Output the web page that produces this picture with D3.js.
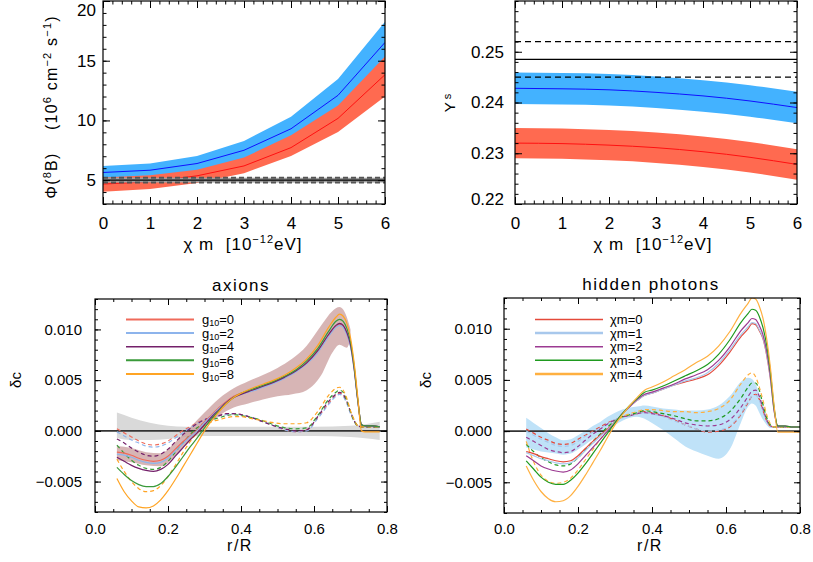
<!DOCTYPE html>
<html><head><meta charset="utf-8">
<script src="https://cdn.jsdelivr.net/npm/d3@7"></script>
<style>body{margin:0;background:#fff}</style>
</head><body><svg id="c" width="813" height="562" xmlns="http://www.w3.org/2000/svg"></svg>
<script>
// ---------------- DATA ----------------
// top panels
const chiM = [0,1,2,3,4,5,6];
const phiBlue   = [5.64,5.83,6.39,7.50,9.30,12.10,16.53];
const phiBlueHi = [6.19,6.39,7.03,8.28,10.30,13.47,18.27];
const phiBlueLo = [5.10,5.27,5.76,6.72,8.30,10.73,14.79];
const phiRed    = [4.67,4.86,5.36,6.19,7.72,10.17,13.83];
const phiRedHi  = [5.22,5.41,5.86,6.89,8.75,11.25,15.36];
const phiRedLo  = [4.03,4.25,4.75,5.58,7.03,9.03,12.00];
const phiObs    = [5.0, 4.8, 5.2];           // central, low, high

const ysBlue   = [0.2428,0.2427,0.2425,0.2420,0.2413,0.2403,0.2390];
const ysBlueHi = [0.2459,0.2458,0.2456,0.2451,0.2444,0.2434,0.2421];
const ysBlueLo = [0.2397,0.2396,0.2394,0.2389,0.2382,0.2372,0.2359];
const ysRed    = [0.2320,0.2319,0.2316,0.2311,0.2303,0.2292,0.2278];
const ysRedHi  = [0.2350,0.2349,0.2346,0.2341,0.2333,0.2322,0.2308];
const ysRedLo  = [0.2290,0.2289,0.2286,0.2281,0.2273,0.2262,0.2248];
const ysObs    = [0.2485, 0.2450, 0.2520];

// bottom-left: axions
const rA = [0.06,0.08,0.10,0.12,0.14,0.16,0.18,0.20,0.22,0.24,0.26,0.28,0.30,0.32,0.34,0.36,0.38,0.40,0.43,0.46,0.49,0.52,0.55,0.58,0.61,0.64,0.66,0.67,0.68,0.69,0.70,0.71,0.72,0.73,0.74,0.76,0.78];
const axLabels = ["0","2","4","6","8"];
const axSolid = [
 [-0.0021,-0.0022,-0.0024,-0.0027,-0.0029,-0.0030,-0.0029,-0.0025,-0.0018,-0.0011,-0.0005,0.0001, 0.0009,0.0016,0.0023,0.0029,0.0034,0.0037, 0.0040,0.0044,0.0048,0.0053,0.0059,0.0067,0.0078,0.0094, 0.0103,0.0105,0.0103,0.0096,0.0084,0.0061,0.0030,0.0006,0.0005,0.0005,0.0004],
 [-0.0023,-0.0024,-0.0026,-0.0029,-0.0031,-0.0032,-0.0031,-0.0027,-0.0020,-0.0013,-0.0006,0.0000, 0.0008,0.0015,0.0022,0.0028,0.0033,0.0036, 0.0039,0.0043,0.0047,0.0052,0.0058,0.0066,0.0077,0.0093, 0.0102,0.0104,0.0102,0.0095,0.0083,0.0060,0.0029,0.0006,0.0005,0.0005,0.0004],
 [-0.0026,-0.0030,-0.0034,-0.0037,-0.0039,-0.0040,-0.0038,-0.0033,-0.0025,-0.0017,-0.0009,-0.0002, 0.0006,0.0014,0.0021,0.0028,0.0033,0.0036, 0.0040,0.0044,0.0048,0.0053,0.0059,0.0067,0.0079,0.0095, 0.0104,0.0106,0.0104,0.0097,0.0085,0.0062,0.0030,0.0006,0.0005,0.0005,0.0004],
 [-0.0036,-0.0043,-0.0049,-0.0053,-0.0055,-0.0055,-0.0052,-0.0045,-0.0036,-0.0026,-0.0016,-0.0007, 0.0003,0.0012,0.0020,0.0027,0.0033,0.0037, 0.0041,0.0045,0.0049,0.0054,0.0060,0.0069,0.0081,0.0098, 0.0108,0.0110,0.0108,0.0101,0.0088,0.0064,0.0031,0.0006,0.0005,0.0005,0.0004],
 [-0.0047,-0.0060,-0.0069,-0.0075,-0.0076,-0.0074,-0.0068,-0.0059,-0.0048,-0.0036,-0.0024,-0.0012, 0.0000,0.0010,0.0019,0.0027,0.0033,0.0037, 0.0042,0.0046,0.0050,0.0055,0.0062,0.0071,0.0084,0.0102, 0.0112,0.0115,0.0113,0.0106,0.0092,0.0067,0.0033,0.0000,-0.0001,-0.0001,-0.0001]
];
const axDashed = [
 [0.0002,-0.0002,-0.0006,-0.0010,-0.0013,-0.0014,-0.0013,-0.0010,-0.0005,0.0000,0.0004,0.0008, 0.0011,0.0013,0.0015,0.0017,0.0017,0.0016, 0.0013,0.0009,0.0005,0.0001,-0.0001,0.0001,0.0013,0.0027, 0.0035,0.0037,0.0035,0.0028,0.0018,0.0010,0.0005,0.0004,0.0004,0.0004,0.0004],
 [-0.0001,-0.0005,-0.0009,-0.0012,-0.0015,-0.0016,-0.0015,-0.0012,-0.0007,-0.0002,0.0003,0.0007, 0.0011,0.0013,0.0015,0.0016,0.0017,0.0016, 0.0013,0.0009,0.0005,0.0001,-0.0001,0.0000,0.0012,0.0026, 0.0034,0.0036,0.0034,0.0027,0.0017,0.0009,0.0005,0.0004,0.0004,0.0004,0.0004],
 [-0.0008,-0.0012,-0.0017,-0.0021,-0.0024,-0.0025,-0.0023,-0.0018,-0.0011,-0.0004,0.0002,0.0007, 0.0011,0.0013,0.0015,0.0017,0.0017,0.0016, 0.0013,0.0009,0.0005,0.0002,0.0000,0.0001,0.0014,0.0029, 0.0036,0.0038,0.0036,0.0029,0.0019,0.0010,0.0005,0.0004,0.0004,0.0004,0.0004],
 [-0.0014,-0.0022,-0.0029,-0.0034,-0.0037,-0.0038,-0.0036,-0.0030,-0.0021,-0.0012,-0.0004,0.0003, 0.0008,0.0011,0.0013,0.0015,0.0016,0.0015, 0.0013,0.0010,0.0006,0.0003,0.0002,0.0003,0.0015,0.0031, 0.0038,0.0040,0.0038,0.0030,0.0019,0.0010,0.0005,0.0004,0.0004,0.0004,0.0004],
 [-0.0028,-0.0040,-0.0050,-0.0057,-0.0060,-0.0059,-0.0054,-0.0045,-0.0034,-0.0022,-0.0011,-0.0002, 0.0005,0.0009,0.0011,0.0013,0.0014,0.0014, 0.0012,0.0010,0.0008,0.0007,0.0007,0.0008,0.0019,0.0035, 0.0042,0.0043,0.0040,0.0032,0.0020,0.0011,0.0005,0.0004,0.0004,0.0004,0.0004]
];
const rGray  = [0.06,0.10,0.15,0.20,0.25,0.30,0.40,0.50,0.60,0.70,0.78];
const grayHi = [0.0018,0.0013,0.0008,0.0005,0.0004,0.0004,0.0004,0.0004,0.0004,0.0005,0.0009];
const grayLo = [-0.0007,-0.0009,-0.0009,-0.0008,-0.0006,-0.0005,-0.0005,-0.0005,-0.0005,-0.0006,-0.0009];
const rBrown  = [0.06,0.10,0.14,0.18,0.22,0.26,0.30,0.34,0.38,0.42,0.46,0.50,0.54,0.58,0.62,0.65,0.67,0.69,0.70];
const brownHi = [-0.0015,-0.0017,-0.0021,-0.0022,-0.0011,0.0003,0.0018,0.0032,0.0042,0.0049,0.0055,0.0062,0.0071,0.0084,0.0104,0.0118,0.0122,0.0112,0.0100];
const brownLo = [-0.0029,-0.0031,-0.0034,-0.0035,-0.0025,-0.0010,0.0003,0.0015,0.0023,0.0027,0.0031,0.0034,0.0036,0.0040,0.0055,0.0077,0.0085,0.0082,0.0090];

// bottom-right: hidden photons
const rH = [0.06,0.08,0.10,0.12,0.14,0.16,0.18,0.20,0.22,0.24,0.26,0.28,0.30,0.32,0.34,0.36,0.38,0.40,0.43,0.46,0.49,0.52,0.55,0.58,0.61,0.64,0.66,0.67,0.68,0.69,0.70,0.71,0.72,0.73,0.74,0.76,0.78,0.80];
const hpLabels = ["0","1","2","3","4"];
const hpSolid = [
 [-0.0020,-0.0022,-0.0025,-0.0027,-0.0029,-0.0030,-0.0029,-0.0024,-0.0017,-0.0010,-0.0004,0.0002, 0.0009,0.0017,0.0024,0.0030,0.0035,0.0037, 0.0041,0.0045,0.0048,0.0051,0.0055,0.0064,0.0077,0.0092, 0.0100,0.0105,0.0104,0.0098,0.0090,0.0074,0.0051,0.0020,0.0005,0.0005,0.0004,0.0004],
 [-0.0021,-0.0024,-0.0027,-0.0029,-0.0031,-0.0032,-0.0031,-0.0026,-0.0019,-0.0012,-0.0005,0.0001, 0.0009,0.0017,0.0024,0.0030,0.0035,0.0037, 0.0041,0.0045,0.0049,0.0052,0.0057,0.0066,0.0079,0.0094, 0.0102,0.0106,0.0105,0.0099,0.0091,0.0075,0.0052,0.0020,0.0005,0.0005,0.0004,0.0004],
 [-0.0024,-0.0029,-0.0034,-0.0037,-0.0039,-0.0040,-0.0038,-0.0032,-0.0024,-0.0016,-0.0008,0.0000, 0.0008,0.0017,0.0024,0.0031,0.0036,0.0038, 0.0042,0.0046,0.0051,0.0055,0.0060,0.0069,0.0082,0.0098, 0.0106,0.0110,0.0109,0.0103,0.0094,0.0078,0.0054,0.0021,0.0005,0.0005,0.0004,0.0004],
 [-0.0029,-0.0037,-0.0045,-0.0050,-0.0052,-0.0052,-0.0048,-0.0041,-0.0032,-0.0022,-0.0012,-0.0002, 0.0008,0.0017,0.0025,0.0032,0.0038,0.0040, 0.0044,0.0049,0.0054,0.0059,0.0065,0.0075,0.0089,0.0106, 0.0115,0.0119,0.0118,0.0112,0.0101,0.0084,0.0058,0.0023,0.0005,0.0005,0.0004,0.0004],
 [-0.0034,-0.0048,-0.0059,-0.0066,-0.0069,-0.0068,-0.0063,-0.0054,-0.0043,-0.0031,-0.0019,-0.0006, 0.0006,0.0016,0.0025,0.0033,0.0040,0.0043, 0.0048,0.0054,0.0060,0.0067,0.0073,0.0083,0.0097,0.0115, 0.0125,0.0130,0.0129,0.0122,0.0110,0.0090,0.0062,0.0025,-0.0001,-0.0001,-0.0001,-0.0001]
];
const hpDashed = [
 [0.0002,-0.0002,-0.0006,-0.0009,-0.0012,-0.0013,-0.0012,-0.0008,-0.0004,0.0000,0.0004,0.0008, 0.0011,0.0014,0.0015,0.0017,0.0019,0.0018, 0.0015,0.0011,0.0006,0.0002,-0.0001,0.0000,0.0004,0.0016, 0.0028,0.0034,0.0036,0.0031,0.0020,0.0010,0.0005,0.0004,0.0004,0.0004,0.0004,0.0004],
 [0.0000,-0.0004,-0.0008,-0.0011,-0.0014,-0.0015,-0.0014,-0.0010,-0.0005,-0.0001,0.0003,0.0007, 0.0011,0.0013,0.0015,0.0017,0.0018,0.0017, 0.0014,0.0010,0.0006,0.0002,0.0000,0.0001,0.0005,0.0017, 0.0029,0.0034,0.0035,0.0030,0.0020,0.0010,0.0005,0.0004,0.0004,0.0004,0.0004,0.0004],
 [-0.0006,-0.0010,-0.0014,-0.0018,-0.0020,-0.0021,-0.0020,-0.0015,-0.0009,-0.0003,0.0002,0.0007, 0.0011,0.0014,0.0015,0.0017,0.0018,0.0017, 0.0015,0.0012,0.0008,0.0006,0.0005,0.0006,0.0011,0.0023, 0.0034,0.0039,0.0040,0.0034,0.0022,0.0011,0.0005,0.0004,0.0004,0.0004,0.0004,0.0004],
 [-0.0013,-0.0020,-0.0026,-0.0030,-0.0033,-0.0034,-0.0032,-0.0026,-0.0018,-0.0010,-0.0003,0.0004, 0.0010,0.0014,0.0016,0.0018,0.0020,0.0019, 0.0017,0.0015,0.0012,0.0010,0.0010,0.0012,0.0019,0.0032, 0.0043,0.0047,0.0047,0.0040,0.0026,0.0013,0.0006,0.0004,0.0004,0.0004,0.0004,0.0004],
 [-0.0010,-0.0030,-0.0043,-0.0049,-0.0051,-0.0050,-0.0046,-0.0038,-0.0028,-0.0018,-0.0008,0.0001, 0.0009,0.0014,0.0017,0.0019,0.0021,0.0021, 0.0020,0.0019,0.0019,0.0018,0.0019,0.0022,0.0030,0.0046, 0.0055,0.0057,0.0053,0.0043,0.0030,0.0016,0.0007,0.0004,0.0004,0.0004,0.0004,0.0004]
];
const rBand  = [0.06,0.08,0.10,0.12,0.14,0.16,0.18,0.20,0.22,0.24,0.26,0.28,0.30,0.32,0.34,0.36,0.38,0.40,0.43,0.46,0.49,0.52,0.55,0.58,0.61,0.64,0.66,0.67,0.68,0.69,0.70,0.71,0.72,0.73];
const bandHi = [0.0013,0.0008,0.0003,-0.0002,-0.0006,-0.0009,-0.0008,-0.0004,0.0000,0.0005,0.0009,0.0014,0.0018,0.0021,0.0023,0.0024,0.0025,0.0024,0.0022,0.0021,0.0020,0.0020,0.0021,0.0025,0.0034,0.0048,0.0052,0.0051,0.0046,0.0037,0.0025,0.0014,0.0006,0.0004];
const bandLo = [-0.0016,-0.0018,-0.0020,-0.0021,-0.0022,-0.0023,-0.0022,-0.0018,-0.0013,-0.0008,-0.0003,0.0002,0.0006,0.0010,0.0013,0.0014,0.0012,0.0008,0.0001,-0.0007,-0.0015,-0.0020,-0.0024,-0.0027,-0.0018,0.0008,0.0024,0.0027,0.0025,0.0018,0.0011,0.0006,0.0003,0.0003];

// tick values
const xTopMajor = [0,1,2,3,4,5,6];
const yPhiMajor = [5,10,15,20];
const yYsMajor = [0.22,0.23,0.24,0.25];
const xBotMajor = [0,0.2,0.4,0.6,0.8];
const yBotMajor = [-0.005,0,0.005,0.010];

// ---------------- DRAWING ----------------
const FONT = '"Liberation Sans", Arial, Helvetica, sans-serif';
const svg = d3.select("#c");
const axColors = ["#ef6a5a","#8db4ec","#74206a","#3a9a3a","#ffa424"];
const hpColors = ["#e4493a","#a8c8ec","#9c3a92","#1f9a1f","#ffb040"];

function panel(o){
  const x = d3.scaleLinear().domain(o.xd).range([o.L,o.R]);
  const y = d3.scaleLinear().domain(o.yd).range([o.B,o.T]);
  const id = "clip_"+o.name;
  svg.append("clipPath").attr("id",id).append("rect")
    .attr("x",o.L).attr("y",o.T).attr("width",o.R-o.L).attr("height",o.B-o.T);
  const plot = svg.append("g").attr("clip-path",`url(#${id})`);
  return {x,y,plot,o};
}
function axes(p){
  const {x,y,o} = p;
  const g = svg.append("g");
  const mk = (t,axis)=>g.append("g").attr("transform",t).call(axis);
  mk(`translate(0,${o.B})`, d3.axisBottom(x).tickValues(o.xMinor).tickSize(-o.mn).tickFormat(""));
  mk(`translate(0,${o.T})`, d3.axisTop(x).tickValues(o.xMinor).tickSize(-o.mn).tickFormat(""));
  mk(`translate(${o.L},0)`, d3.axisLeft(y).tickValues(o.yMinor).tickSize(-o.mn).tickFormat(""));
  mk(`translate(${o.R},0)`, d3.axisRight(y).tickValues(o.yMinor).tickSize(-o.mn).tickFormat(""));
  const xb = mk(`translate(0,${o.B})`, d3.axisBottom(x).tickValues(o.xMajor).tickSize(-o.mj).tickPadding(o.xPad).tickFormat(o.xFmt));
  mk(`translate(0,${o.T})`, d3.axisTop(x).tickValues(o.xMajor).tickSize(-o.mj).tickFormat(""));
  const yl = mk(`translate(${o.L},0)`, d3.axisLeft(y).tickValues(o.yMajor).tickSize(-o.mj).tickPadding(o.yPad).tickFormat(o.yFmt));
  mk(`translate(${o.R},0)`, d3.axisRight(y).tickValues(o.yMajor).tickSize(-o.mj).tickFormat(""));
  g.selectAll(".domain").remove();
  g.selectAll(".tick line").attr("stroke","#000").attr("stroke-width",1);
  g.selectAll("text").attr("font-family",FONT).attr("font-size",o.fs).attr("fill","#000");
  svg.append("rect").attr("x",o.L).attr("y",o.T).attr("width",o.R-o.L).attr("height",o.B-o.T)
    .attr("fill","none").attr("stroke","#000").attr("stroke-width",1.2);
  return {xb,yl};
}
function area(p,xs,lo,hi,fill,op,curve){
  const d = xs.map((v,i)=>[v,lo[i],hi[i]]);
  p.plot.append("path").datum(d)
    .attr("d", d3.area().x(e=>p.x(e[0])).y0(e=>p.y(e[1])).y1(e=>p.y(e[2])).curve(curve||d3.curveMonotoneX))
    .attr("fill",fill).attr("fill-opacity",op==null?1:op).attr("stroke","none");
}
function line(p,xs,ys,color,w,dash,curve){
  const d = xs.map((v,i)=>[v,ys[i]]);
  p.plot.append("path").datum(d)
    .attr("d", d3.line().x(e=>p.x(e[0])).y(e=>p.y(e[1])).curve(curve||d3.curveMonotoneX))
    .attr("fill","none").attr("stroke",color).attr("stroke-width",w)
    .attr("stroke-dasharray",dash||null);
}
function hline(p,v,color,w,dash){
  p.plot.append("line").attr("x1",p.o.L).attr("x2",p.o.R).attr("y1",p.y(v)).attr("y2",p.y(v))
    .attr("stroke",color).attr("stroke-width",w).attr("stroke-dasharray",dash||null);
}
function txt(x,y,s,fs,anchor,rot){
  const t = svg.append("text").attr("x",x).attr("y",y).attr("font-family",FONT)
    .attr("font-size",fs).attr("text-anchor",anchor||"middle").attr("fill","#000");
  if(s) t.text(s);
  if(rot) t.attr("transform",`rotate(${rot},${x},${y})`);
  return t;
}
function sup(t,s,fs,up){ t.append("tspan").attr("dy",-up).attr("font-size",fs).text(s); }
function back(t,s,up){ t.append("tspan").attr("dy",up).text(s); }

// ---- Panel 1: phi(8B)
const p1 = panel({name:"p1",L:103,R:385,T:1,B:204,xd:[0,6],yd:[3,20]});
area(p1,chiM,phiBlueLo,phiBlueHi,"#43b2ff",1,d3.curveLinear);
area(p1,chiM,phiRedLo,phiRedHi,"#ff6a50",1,d3.curveLinear);
line(p1,chiM,phiBlue,"#1010ff",1,null,d3.curveLinear);
line(p1,chiM,phiRed,"#ff1010",1,null,d3.curveLinear);
p1.plot.append("rect").attr("x",103).attr("width",282)
  .attr("y",p1.y(phiObs[2])).attr("height",p1.y(phiObs[1])-p1.y(phiObs[2]))
  .attr("fill","#a0a0a0");
hline(p1,phiObs[2],"#555",1.8,"5,3");
hline(p1,phiObs[1],"#555",1.8,"5,3");
hline(p1,phiObs[0],"#000",1.2);
const a1 = axes({...p1,o:{...p1.o,xMajor:xTopMajor,xMinor:d3.range(0,6.001,0.2),yMajor:yPhiMajor,yMinor:d3.range(3,20.001,1),
  mj:7,mn:3.5,xPad:13,yPad:7,fs:17,xFmt:d3.format("d"),yFmt:d3.format("d")}});
a1.yl.selectAll(".tick text").filter(d=>d===20).attr("dy","0.85em");

// ---- Panel 2: Ys
const p2 = panel({name:"p2",L:515,R:797,T:1,B:204,xd:[0,6],yd:[0.22,0.26]});
area(p2,chiM,ysBlueLo,ysBlueHi,"#43b2ff",1,d3.curveNatural);
area(p2,chiM,ysRedLo,ysRedHi,"#ff6a50",1,d3.curveNatural);
line(p2,chiM,ysBlue,"#1010ff",1,null,d3.curveNatural);
line(p2,chiM,ysRed,"#ff1010",1,null,d3.curveNatural);
hline(p2,ysObs[0],"#000",1.1);
hline(p2,ysObs[1],"#000",1.1,"6,4");
hline(p2,ysObs[2],"#000",1.1,"6,4");
const a2 = axes({...p2,o:{...p2.o,xMajor:xTopMajor,xMinor:d3.range(0,6.001,0.2),yMajor:yYsMajor,yMinor:d3.range(0.22,0.26001,0.002),
  mj:7,mn:3.5,xPad:13,yPad:11,fs:17,xFmt:d3.format("d"),yFmt:d3.format(".2f")}});
a2.yl.selectAll(".tick text").filter(d=>d===0.22).attr("dy","0.05em");

// x titles top
[243,653].forEach(cx=>{
  const t = txt(cx,250,"",17).attr("letter-spacing",1).attr("xml:space","preserve");
  t.append("tspan").text("χ m  [10");
  sup(t,"−12",11,7);
  back(t,"eV]",7);
});
// y title p1
{
  const t = txt(57,107,"",16,"middle",-90).attr("letter-spacing",1.2).attr("xml:space","preserve");
  t.append("tspan").text("Φ(");
  sup(t,"8",11,6); back(t,"B)    (10",6);
  sup(t,"6",11,6); back(t," cm",6);
  sup(t,"−2",11,6); back(t," s",6);
  sup(t,"−1",11,6); back(t,")",6);
}
// y title p2
{
  const t = txt(455,103,"",15,"middle",-90);
  t.append("tspan").text("Y");
  t.append("tspan").attr("dx",3).attr("dy",-4).attr("font-size",11).text("s");
}

// ---- Panel 3: axions
const yD = [-0.008,0.013];
const p3 = panel({name:"p3",L:95,R:387,T:299,B:512,xd:[0,0.8],yd:yD});
area(p3,rGray,grayLo,grayHi,"#d9d9d9",1);
area(p3,rBrown,brownLo,brownHi,"#c99c9c",0.75);
hline(p3,0,"#333",1.6);
axDashed.forEach((s,i)=>line(p3,rA,s,axColors[i],1.2,"4,3"));
axSolid.forEach((s,i)=>line(p3,rA,s,axColors[i],1.2));
axes({...p3,o:{...p3.o,xMajor:xBotMajor,xMinor:d3.range(0,0.8001,0.05),yMajor:yBotMajor,yMinor:d3.range(-0.008,0.01301,0.001),
  mj:6,mn:3,xPad:11,yPad:13,fs:15,xFmt:d3.format(".1f"),yFmt:d3.format(".3f")}});

// ---- Panel 4: hidden photons
const p4 = panel({name:"p4",L:504,R:800,T:298,B:513,xd:[0,0.8],yd:yD});
area(p4,rBand,bandLo,bandHi,"#bfe2f8",1);
hline(p4,0,"#333",1.6);
hpDashed.forEach((s,i)=>line(p4,rH,s,hpColors[i],1.2,"4,3"));
hpSolid.forEach((s,i)=>line(p4,rH,s,hpColors[i],1.2));
axes({...p4,o:{...p4.o,xMajor:xBotMajor,xMinor:d3.range(0,0.8001,0.05),yMajor:yBotMajor,yMinor:d3.range(-0.008,0.01301,0.001),
  mj:6,mn:3,xPad:10,yPad:12,fs:15,xFmt:d3.format(".1f"),yFmt:d3.format(".3f")}});

// titles & labels bottom
txt(241,291,"axions",17).attr("letter-spacing",1.5);
txt(651,290,"hidden photons",17).attr("letter-spacing",1.5);
txt(240,551,"r/R",16).attr("letter-spacing",1.5);
txt(650,551,"r/R",16).attr("letter-spacing",1.5);
txt(21,380,"δc",15,"middle",-90);
txt(431,380,"δc",15,"middle",-90);

// legends
const legY = [319.5,333,346.7,360.2,374];
const axLW = [2.2,1.8,1.5,2,2];
const hpLW = [1.6,2.6,1.6,1.6,2.6];
axLabels.forEach((lab,i)=>{
  svg.append("line").attr("x1",126).attr("x2",194).attr("y1",legY[i]).attr("y2",legY[i])
    .attr("stroke",axColors[i]).attr("stroke-width",axLW[i]);
  const t = txt(202,legY[i]+4.5,"",13,"start");
  t.append("tspan").text("g");
  t.append("tspan").attr("font-size",9).attr("dy",2).text("10");
  t.append("tspan").attr("dy",-2).text("="+lab);
});
hpLabels.forEach((lab,i)=>{
  svg.append("line").attr("x1",535).attr("x2",603).attr("y1",legY[i]).attr("y2",legY[i])
    .attr("stroke",hpColors[i]).attr("stroke-width",hpLW[i]);
  txt(610,legY[i]+4.5,"χm="+lab,13,"start");
});
</script>
</body></html>
